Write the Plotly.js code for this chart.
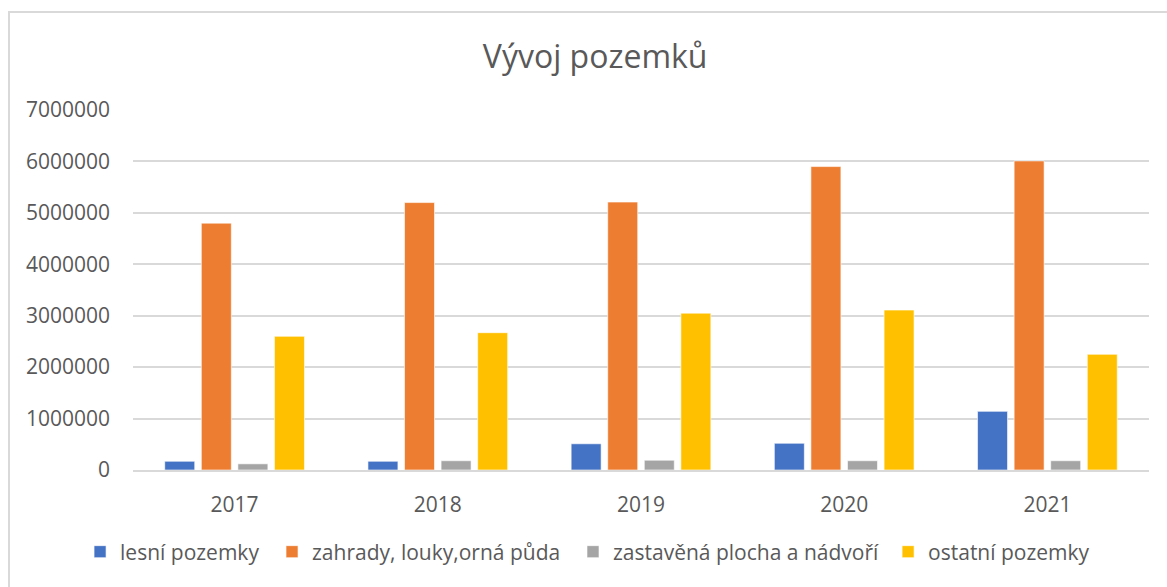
<!DOCTYPE html>
<html>
<head>
<meta charset="utf-8">
<script src="https://cdn.plot.ly/plotly-3.0.1.min.js"></script>
<style>
  html, body { margin: 0; padding: 0; background: #fff; }
  #wrap { position: relative; width: 1167px; height: 587px; overflow: hidden; }
  #chart { position: absolute; left: 0; top: 0; width: 1167px; height: 587px; }
  #frame { position: absolute; left: 8px; top: 11px; width: 1200px; height: 600px;
           border-left: 2px solid #d9d9d9; border-top: 2px solid #d9d9d9; pointer-events: none; }
</style>
</head>
<body>
<div id="wrap">
  <div id="chart"></div>
  <div id="frame"></div>
</div>
<script>
const years = ["2017", "2018", "2019", "2020", "2021"];
const seriesNames = ["lesní pozemky", "zahrady, louky,orná půda", "zastavěná plocha a nádvoří", "ostatní pozemky"];
const lesni = [170000, 170000, 510000, 520000, 1140000];
const zahrady = [4800000, 5200000, 5210000, 5900000, 6010000];
const zastavena = [120000, 180000, 190000, 180000, 180000];
const ostatni = [2600000, 2670000, 3050000, 3110000, 2250000];
const colors = ["#4472C4", "#ED7D31", "#A5A5A5", "#FFC000"];
const tickVals = [0, 1000000, 2000000, 3000000, 4000000, 5000000, 6000000, 7000000];

const legendIds = ["legend", "legend2", "legend3", "legend4"];
const legendX = [0.0686, 0.2331, 0.491, 0.761];

const values = [lesni, zahrady, zastavena, ostatni];
const traces = values.map((v, i) => ({
  type: "bar",
  name: seriesNames[i],
  legend: legendIds[i],
  x: years,
  y: v,
  marker: { color: colors[i], line: { color: "rgba(255,255,255,0.6)", width: 1 } },
  hoverinfo: "x+y+name"
}));

const font = "'Open Sans', 'Liberation Sans', sans-serif";
const layout = {
  width: 1167,
  height: 587,
  margin: { l: 133, r: 18, t: 110, b: 117 },
  paper_bgcolor: "#ffffff",
  plot_bgcolor: "#ffffff",
  font: { family: font, color: "#595959", size: 21 },
  title: {
    text: "Vývoj pozemků",
    font: { family: font, size: 32, color: "#595959" },
    x: 0.51, xref: "container", xanchor: "center",
    y: 0.903, yref: "container", yanchor: "middle"
  },
  barmode: "group",
  bargap: 0.28,
  bargroupgap: 0.18,
  xaxis: {
    type: "category",
    showgrid: false,
    showline: true,
    linecolor: "#d9d9d9",
    linewidth: 2,
    ticks: "",
    ticklabelstandoff: 15,
    tickfont: { family: font, size: 21, color: "#595959" }
  },
  yaxis: {
    range: [0, 7000000],
    tickvals: tickVals,
    ticktext: tickVals.map(v => String(v)),
    showgrid: true,
    gridcolor: "#d9d9d9",
    gridwidth: 2,
    zeroline: false,
    showline: false,
    ticks: "",
    ticklabelstandoff: 22,
    tickfont: { family: font, size: 21, color: "#595959" }
  },
  showlegend: true
};

legendIds.forEach((id, i) => {
  layout[id] = {
    orientation: "h",
    xref: "container", x: legendX[i], xanchor: "left",
    yref: "container", y: 0.0596, yanchor: "middle",
    font: { family: font, size: 21, color: "#595959" },
    itemwidth: 30,
    bgcolor: "rgba(0,0,0,0)"
  };
});

Plotly.newPlot("chart", traces, layout, { displayModeBar: false, staticPlot: true });
</script>
</body>
</html>
